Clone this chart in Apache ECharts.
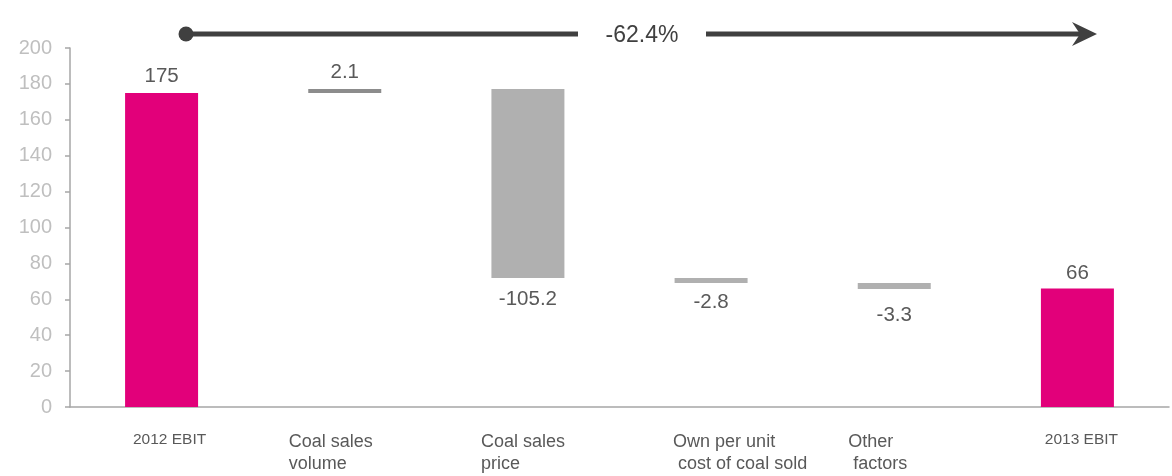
<!DOCTYPE html>
<html><head><meta charset="utf-8">
<script src="https://cdn.jsdelivr.net/npm/echarts@6/dist/echarts.min.js"></script>
<style>html,body{margin:0;padding:0;background:#fff}#c{width:1172px;height:476px}</style>
</head><body><div id="c"></div>
<script>
const categories = ['2012 EBIT', 'Coal sales\nvolume', 'Coal sales\nprice', 'Own per unit\n cost of coal sold', 'Other\n factors', '2013 EBIT'];
const startValue = 175;
const changes = [2.1, -105.2, -2.8, -3.3];
const endValue = 66;
const changeLabel = '-62.4%';
const yTicks = { min: 0, max: 200, interval: 20 };

// waterfall build
const base = [0], size = [startValue];
let run = startValue;
changes.forEach(c => { const nr = run + c; base.push(Math.min(run, nr)); size.push(Math.abs(c)); run = nr; });
base.push(0); size.push(endValue);
const labelsTxt = [String(startValue)].concat(changes.map(String)).concat([String(endValue)]);

const MAG = '#E2007A';
const barColors = [MAG, '#8C8C8C', '#B0B0B0', '#B0B0B0', '#B0B0B0', MAG];
const labelDist = [6, 6, 11, 9, 16, 5];
const richKeys = ['e1', 'v', 'p', 'o', 'f', 'e2'];

const visData = size.map((v, i) => {
  const neg = i > 0 && i <= changes.length && changes[i - 1] < 0;
  return {
    value: v,
    itemStyle: { color: barColors[i] },
    label: { show: true, position: neg ? 'bottom' : 'top', distance: labelDist[i], formatter: labelsTxt[i] }
  };
});

const chart = echarts.init(document.getElementById('c'));
const lab = { color: '#595959', fontFamily: 'Liberation Sans, Arial', fontSize: 18, lineHeight: 22, align: 'left' };
chart.setOption({
  animation: false,
  grid: { left: 70, right: 3, top: 48, bottom: 69, containLabel: false },
  xAxis: {
    type: 'category', data: categories,
    axisLine: { lineStyle: { color: '#A6A6A6', width: 1.5 } },
    axisTick: { show: false },
    axisLabel: {
      interval: 0, margin: 22,
      formatter: (v, i) => v.split('\n').map(s => '{' + richKeys[i] + '|' + s + '}').join('\n'),
      rich: {
        e1: { color: '#595959', fontFamily: 'Liberation Sans, Arial', fontSize: 15.5, lineHeight: 21, padding: [0, 0, 0, 16] },
        e2: { color: '#595959', fontFamily: 'Liberation Sans, Arial', fontSize: 15.5, lineHeight: 21, padding: [0, 0, 0, 8] },
        v: Object.assign({}, lab, { width: 112, padding: [4, 0, 0, 0] }),
        p: Object.assign({}, lab, { width: 94, padding: [4, 0, 0, 0] }),
        o: Object.assign({}, lab, { width: 76, padding: [4, 0, 0, 0] }),
        f: Object.assign({}, lab, { width: 92, padding: [4, 0, 0, 0] })
      }
    }
  },
  yAxis: {
    type: 'value', min: yTicks.min, max: yTicks.max, interval: yTicks.interval,
    splitLine: { show: false },
    axisLine: { show: true, lineStyle: { color: '#A6A6A6', width: 1.5 } },
    axisTick: { show: true, length: 5, lineStyle: { color: '#A6A6A6', width: 1.5 } },
    axisLabel: { color: '#BFBFBF', fontSize: 20, fontFamily: 'Liberation Sans, Arial', margin: 18 }
  },
  series: [
    { type: 'bar', stack: 'w', data: base, itemStyle: { color: 'transparent' }, barWidth: 73, silent: true },
    { type: 'bar', stack: 'w', data: visData, barWidth: 73,
      label: { color: '#595959', fontSize: 20.5, fontFamily: 'Liberation Sans, Arial' } }
  ],
  graphic: [
    { type: 'line', shape: { x1: 186, y1: 34, x2: 578, y2: 34 }, style: { stroke: '#404040', lineWidth: 5 } },
    { type: 'line', shape: { x1: 706, y1: 34, x2: 1085, y2: 34 }, style: { stroke: '#404040', lineWidth: 5 } },
    { type: 'circle', shape: { cx: 186, cy: 34, r: 7.5 }, style: { fill: '#404040' } },
    { type: 'polygon', shape: { points: [[1072, 22], [1097, 34], [1072, 46], [1080, 34]] }, style: { fill: '#404040' } },
    { type: 'text', x: 642, y: 36, style: { text: changeLabel, fill: '#404040', fontSize: 23, fontFamily: 'Liberation Sans, Arial', align: 'center', verticalAlign: 'middle' } }
  ]
});
</script></body></html>
